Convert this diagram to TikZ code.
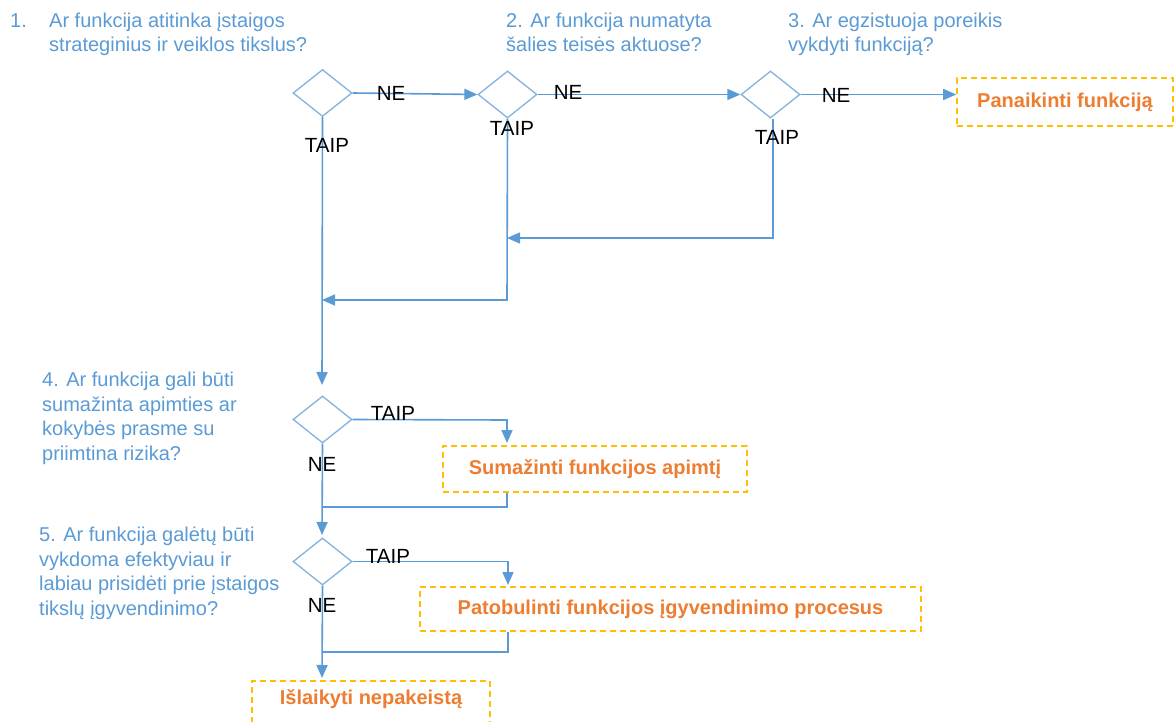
\documentclass[tikz,border=0pt]{standalone}
\usepackage{fontspec}
\setmainfont{Liberation Sans}
\usetikzlibrary{shapes.geometric,arrows.meta}
\definecolor{qblue}{RGB}{91,155,213}
\definecolor{dblue}{RGB}{130,178,224}
\definecolor{lblue}{RGB}{91,155,213}
\definecolor{oran}{RGB}{237,125,49}
\definecolor{ybox}{RGB}{255,192,0}
\tikzset{
  dec/.style={diamond, draw=dblue, line width=1.3pt, minimum width=59pt, minimum height=47pt, inner sep=0pt},
  act/.style={rectangle, draw=ybox, line width=1.6pt, dash pattern=on 6pt off 4pt, text=oran, font=\fontsize{20}{24}\selectfont\bfseries, inner sep=0pt},
  lbl/.style={text=black, font=\fontsize{20.5}{24}\selectfont, inner sep=0pt},
  ques/.style={text=qblue, font=\fontsize{20}{24.5}\selectfont, align=left, inner sep=0pt, anchor=base west},
  con/.style={draw=lblue, line width=1.6pt},
  arr/.style={con, -{Triangle[length=13pt,width=11pt]}}
}
\begin{document}
\begin{tikzpicture}[x=1pt,y=-1pt]
\clip (0,0) rectangle (1175,722);
\fill[white] (0,0) rectangle (1175,722);
% questions (anchor = baseline of last line)
\node[ques] (q1) at (10,52) {\makebox[39pt][l]{1.}Ar funkcija atitinka įstaigos\\\hspace*{39pt}strateginius ir veiklos tikslus?};
\node[ques] (q2) at (506,52) {2. Ar funkcija numatyta\\šalies teisės aktuose?};
\node[ques] (q3) at (788,52) {3. Ar egzistuoja poreikis\\vykdyti funkciją?};
\node[ques] (q4) at (42,460) {4. Ar funkcija gali būti\\sumažinta apimties ar\\kokybės prasme su\\priimtina rizika?};
\node[ques] (q5) at (39,615) {5. Ar funkcija galėtų būti\\vykdoma efektyviau ir\\labiau prisidėti prie įstaigos\\tikslų įgyvendinimo?};
% decisions
\node[dec] (d1) at (322.5,93) {};
\node[dec] (d2) at (507.5,94.5) {};
\node[dec] (d3) at (770.5,94.5) {};
\node[dec] (d4) at (322.5,419.5) {};
\node[dec] (d5) at (322.5,561.5) {};
% actions
\node[act, minimum width=216pt, minimum height=48pt] (b1) at (1065,102) {Panaikinti funkciją};
\node[act, minimum width=304pt, minimum height=46pt] (b2) at (595,469) {Sumažinti funkcijos apimtį};
\node[act, minimum width=501pt, minimum height=44pt] (b3) at (670.5,609) {Patobulinti funkcijos įgyvendinimo procesus};
\node[act, minimum width=238pt, minimum height=48pt, text height=14pt, text depth=16pt] (b4) at (371,705) {Išlaikyti nepakeistą};
% junction coordinates
\coordinate (j1) at (322,300);
\coordinate (j2) at (507,300);
\coordinate (j3) at (773,238);
\coordinate (j4) at (507,238);
\coordinate (j5) at (507,420);
\coordinate (j6) at (507,443);
\coordinate (j7) at (507,507);
\coordinate (j8) at (322,507);
\coordinate (j9) at (508,561.5);
\coordinate (j10) at (508,585);
\coordinate (j11) at (508,652);
\coordinate (j12) at (322,652);
\coordinate (e1) at (322,385);
\coordinate (e2) at (322,535);
\coordinate (e3) at (322,678);
% NE connectors
\draw[arr] (d1.east) -- (d2.west);
\draw[arr] (d2.east) -- (d3.west);
\draw[arr] (d3.east) -- (d3.east -| b1.west);
% TAIP branches top
\draw[arr] (d1.south) -- (e1);
\draw[arr] (d2.south) -- (j2) -- (j1);
\draw[arr] ([xshift=2.5pt]d3.south) -- (j3) -- (j4);
% question 4
\draw[arr] (d4.east) -- (j5) -- (j6);
\draw[con] (b2.south -| j7) -- (j7) -- (j8);
\draw[arr] (d4.south) -- (e2);
% question 5
\draw[arr] (d5.east) -- (j9) -- (j10);
\draw[con] (b3.south -| j11) -- (j11) -- (j12);
\draw[arr] (d5.south) -- (e3);
% labels
\node[lbl] (n1) at (391,93) {NE};
\node[lbl] (n2) at (568,92) {NE};
\node[lbl] (n3) at (836,95) {NE};
\node[lbl] (t1) at (327,145) {TAIP};
\node[lbl] (t2) at (512,128) {TAIP};
\node[lbl] (t3) at (777,137) {TAIP};
\node[lbl] (t4) at (393,413) {TAIP};
\node[lbl] (n4) at (322,464) {NE};
\node[lbl] (t5) at (388,556) {TAIP};
\node[lbl] (n5) at (322,605) {NE};
\end{tikzpicture}
\end{document}
